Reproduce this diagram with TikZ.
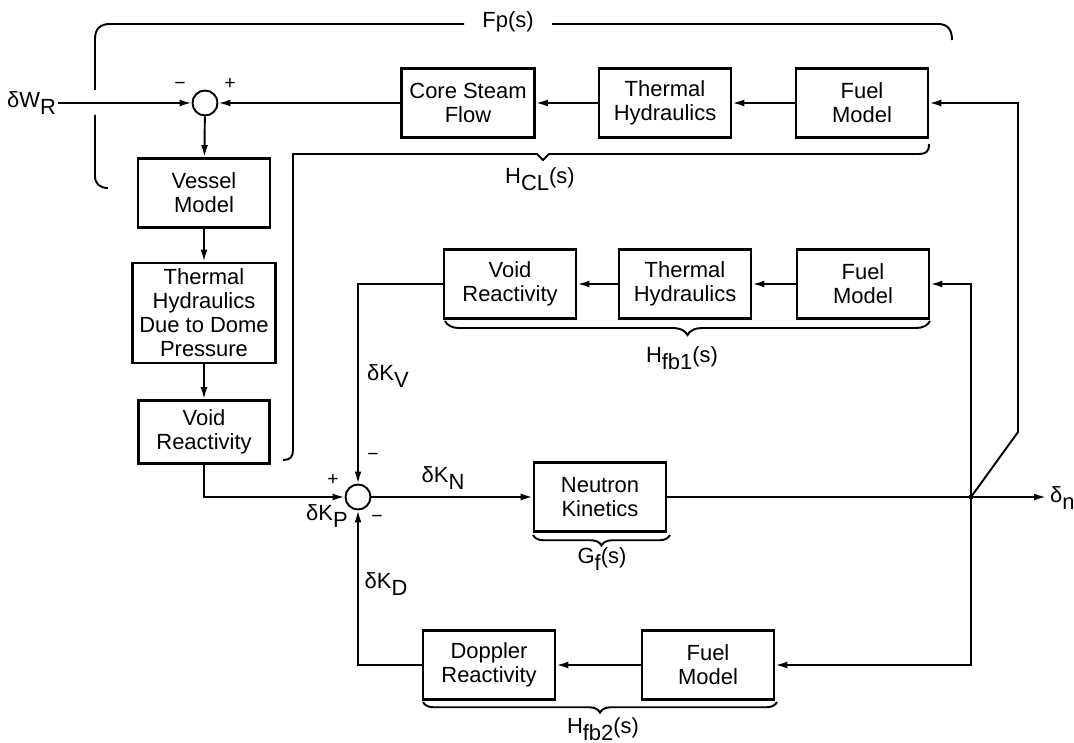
\documentclass[tikz,border=0pt]{standalone}
\usepackage{fontspec}
\setmainfont{Liberation Sans}
\usepackage{tikz}
\usetikzlibrary{positioning, arrows.meta, calc, decorations.pathreplacing}

\tikzset{
  blk/.style={draw, line width=1.6pt, align=center, inner sep=1pt,
    minimum width=2.64cm, minimum height=1.38cm,
    font=\fontsize{12.5}{13.7}\selectfont},
  sumnode/.style={draw, circle, line width=1.1pt, minimum size=0.5cm, inner sep=0pt},
  sig/.style={-{Latex[length=2.4mm,width=1.4mm]}, line width=1.1pt},
  wire/.style={line width=1.1pt},
  lbl/.style={font=\fontsize{12.5}{14}\selectfont, inner sep=1pt},
  sgn/.style={font=\fontsize{11}{12}\selectfont, inner sep=0pt},
  brc/.style={line width=1.1pt, decorate, decoration={brace, amplitude=8pt}},
}
\newcommand{\lowsub}[1]{\raisebox{-4pt}{#1}}

\begin{document}
\begin{tikzpicture}[x=0.02cm, y=-0.02cm]
  \useasboundingbox (0,0) rectangle (1074,743);

  % top loop
  \node[sumnode] (s1) at (205,103) {};
  \node[blk, minimum width=2.66cm] (csf) at (468,103) {Core Steam\\Flow};
  \node[blk] (th1) at (665,103) {Thermal\\Hydraulics};
  \node[blk] (fm1) at (862,103) {Fuel\\Model};
  \node[blk] (vm) at (204,193) {Vessel\\Model};
  \node[blk, minimum width=2.86cm, minimum height=2.0cm] (thd) at (204,313)
    {Thermal\\Hydraulics\\Due to Dome\\Pressure};
  \node[blk, minimum width=2.62cm, minimum height=1.26cm] (vr1) at (204,432) {Void\\Reactivity};

  % main path
  \node[sumnode] (s2) at (358,497) {};
  \node[blk] (nk) at (600,497) {Neutron\\Kinetics};

  % feedback 1
  \node[blk] (vr2) at (510,284) {Void\\Reactivity};
  \node[blk] (th2) at (685,284) {Thermal\\Hydraulics};
  \node[blk] (fm2) at (863,284) {Fuel\\Model};

  % feedback 2
  \node[blk] (dop) at (489,665) {Doppler\\Reactivity};
  \node[blk] (fm3) at (708,665) {Fuel\\Model};

  \coordinate (in) at (58,103);
  \coordinate (br) at (971,497);
  \coordinate (kink) at (1018,432);
  \coordinate (out) at (1046,497);

  \draw[sig] (in) -- (s1);
  \draw[sig] (csf) -- (s1);
  \draw[sig] (th1) -- (csf);
  \draw[sig] (fm1) -- (th1);
  \draw[sig] (br) -- (kink) |- (fm1);
  \draw[sig] (s1) -- (vm);
  \draw[sig] (vm) -- (thd);
  \draw[sig] (thd) -- (vr1);
  \draw[sig] (vr1) |- (s2);
  \draw[sig] (s2) -- (nk);
  \draw[sig] (nk) -- (out);
  \fill (br) circle (2.5);
  \draw[sig] (br) |- (fm2);
  \draw[sig] (fm2) -- (th2);
  \draw[sig] (th2) -- (vr2);
  \draw[sig] (vr2) -| (s2);
  \draw[sig] (br) |- (fm3);
  \draw[sig] (fm3) -- (dop);
  \draw[sig] (dop) -| (s2);

  % signal labels
  \node[lbl, anchor=east] (lwr) at (in) {δW\lowsub{R}};
  \node[sgn] (m1) at (180,86) {−};
  \node[sgn] (p1) at (230,84) {+};
  \node[sgn] (p2) at (333,480) {+};
  \node[sgn] (m2) at (373,457) {−};
  \node[sgn] (m3) at (377,519) {−};
  \node[lbl] (kp) at (327,516) {δK\lowsub{P}};
  \node[lbl] (kn) at (443,478) {δK\lowsub{N}};
  \node[lbl] (kv) at (388,376) {δK\lowsub{V}};
  \node[lbl] (kd) at (386,584) {δK\lowsub{D}};
  \node[lbl, anchor=west] (dn) at (1048,498) {δ\lowsub{n}};

  % transfer function brackets
  \draw[wire] (952,40) .. controls (952,30) and (948,24) .. (938,24) -- (552,24);
  \draw[wire] (464,24) -- (110,24) .. controls (100,24) and (95,29) .. (95,39) -- (95,90);
  \draw[wire] (95,115) -- (95,176) .. controls (95,184) and (100,188) .. (108,188);
  \node[lbl] (fp) at (508,22) {Fp(s)};

  \draw[wire] (929,144) .. controls (929,152) and (926,154) .. (918,154) -- (549,154)
    -- (543,160) -- (537,154) -- (293,154) -- (293,450)
    .. controls (293,457) and (290,460) .. (283,460);
  \node[lbl] (hcl) at (540,179) {H\lowsub{CL}(s)};

  \draw[brc] (930,321) -- (445,321);
  \node[lbl] (hfb1) at (682,358) {H\lowsub{fb1}(s)};
  \draw[brc, decoration={amplitude=6pt}] (670,535) -- (533,535);
  \node[lbl] (gf) at (602,559) {G\lowsub{f}(s)};
  \draw[brc, decoration={amplitude=6pt}] (777,702) -- (423,702);
  \node[lbl] (hfb2) at (603,729) {H\lowsub{fb2}(s)};
\end{tikzpicture}
\end{document}
